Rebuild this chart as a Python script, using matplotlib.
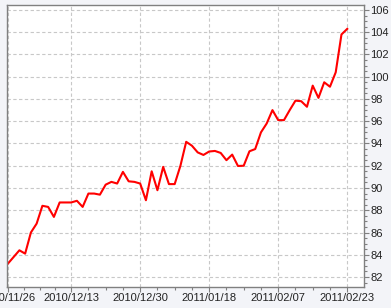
import numpy as np
import matplotlib
matplotlib.use("Agg")
import matplotlib.pyplot as plt
from matplotlib.ticker import FixedLocator, MultipleLocator

# values (one per trading day)
values = [83.2, 83.8, 84.4, 84.1, 86.0, 86.8, 88.4, 88.3, 87.4, 88.7,
          88.7, 88.7, 88.85, 88.3, 89.5, 89.5, 89.4, 90.3, 90.55, 90.4,
          91.45, 90.6, 90.55, 90.4, 88.9, 91.5, 89.8, 91.9, 90.35, 90.35,
          92.0, 94.15, 93.8, 93.2, 92.97, 93.28, 93.33, 93.15, 92.5, 93.0,
          91.98, 92.0, 93.3, 93.5, 95.0, 95.8, 97.0, 96.1, 96.1, 97.0,
          97.85, 97.8, 97.3, 99.2, 98.1, 99.5, 99.1, 100.4, 103.8, 104.3]
tick_idx = [0, 11, 23, 35, 47, 59]
tick_labels = ["2010/11/26", "2010/12/13", "2010/12/30",
               "2011/01/18", "2011/02/07", "2011/02/23"]
y_ticks = list(range(82, 107, 2))

plt.rcParams['font.family'] = ['Liberation Sans', 'DejaVu Sans']

fig = plt.figure(figsize=(3.91, 3.08), dpi=100, facecolor='#f3f4f8')
ax = fig.add_axes([0.0187, 0.0692, 0.912, 0.9136])
ax.set_facecolor('white')

x = np.arange(len(values))
ax.plot(x, values, color='#ff0000', linewidth=1.5, solid_joinstyle='round')

ax.set_xlim(-0.1, 61.9)
ax.set_ylim(81.13, 106.42)

ax.xaxis.set_major_locator(FixedLocator(tick_idx))
ax.set_xticklabels(tick_labels)
minors = []
for a, b in zip(tick_idx[:-1], tick_idx[1:]):
    minors += list(np.linspace(a, b, 5)[1:-1])
ax.xaxis.set_minor_locator(FixedLocator(minors))

ax.yaxis.tick_right()
ax.set_yticks(y_ticks)
ax.yaxis.set_minor_locator(MultipleLocator(0.5))

ax.grid(True, which='major', color='#c8c8c8', linestyle=(0, (3, 2.2)), linewidth=0.8)

for s in ax.spines.values():
    s.set_color('#808080')
    s.set_linewidth(1.0)

ax.tick_params(axis='both', which='major', length=3.5, width=0.8, color='#808080',
               labelsize=8, labelcolor='#222222', pad=1)
ax.tick_params(axis='both', which='minor', length=2, width=0.8, color='#808080')

fig.savefig('out.png', dpi=100, facecolor=fig.get_facecolor())
